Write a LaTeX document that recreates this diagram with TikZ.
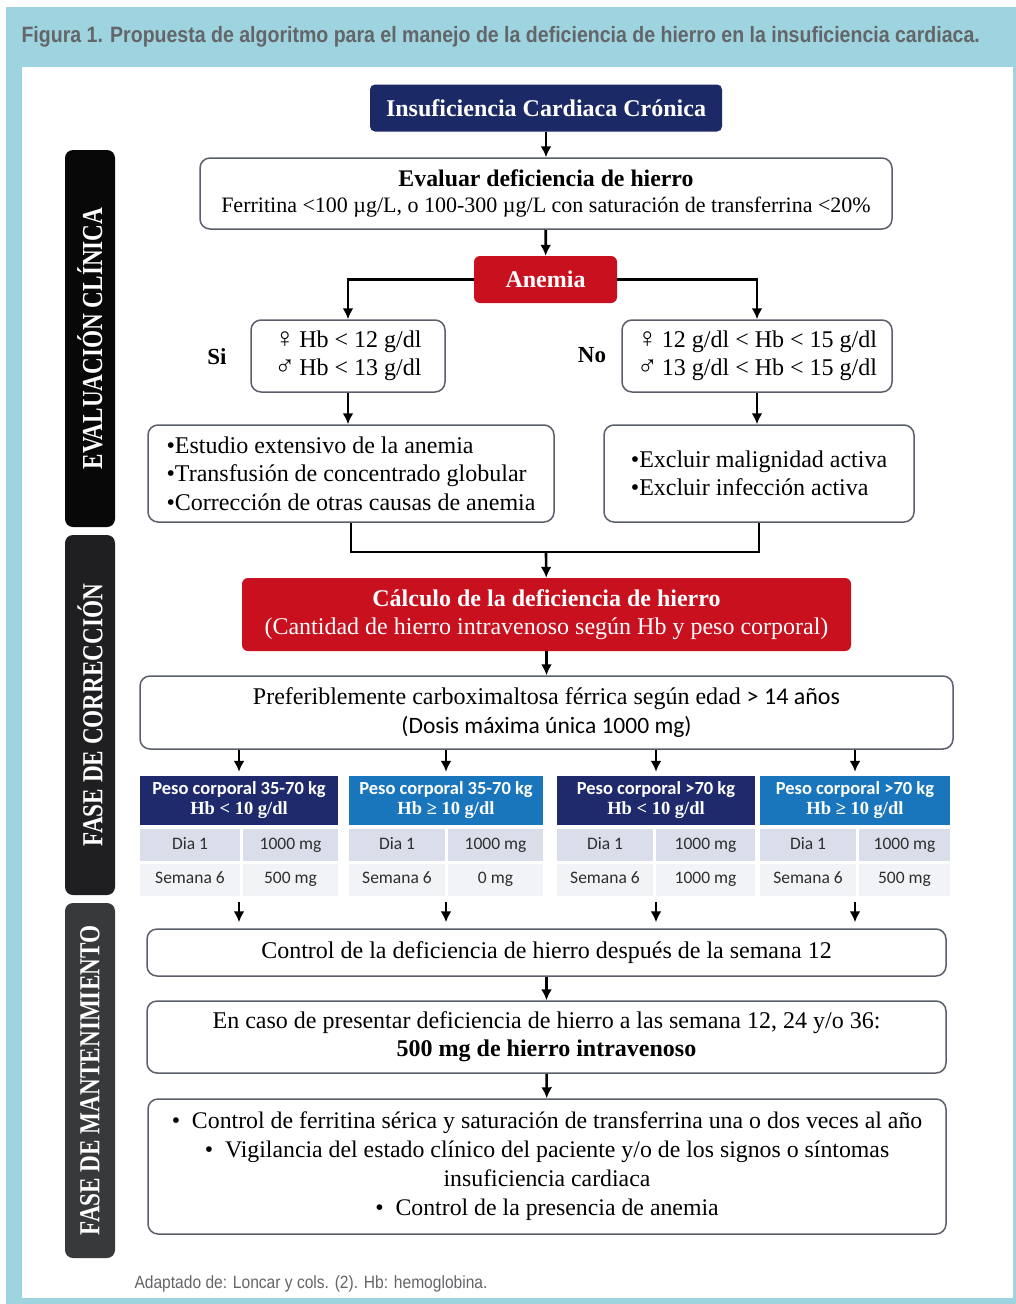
\documentclass[tikz,border=0pt]{standalone}
\usepackage{fontspec}
\setmainfont{Liberation Serif}
\newfontfamily\calfont{Carlito}
\newfontfamily\capfont[FakeStretch=0.88]{Liberation Sans}
\newfontfamily\barfont[FakeStretch=0.8]{Liberation Serif}
\usetikzlibrary{arrows.meta}
\newcommand\sexsym[1]{{\fontsize{28}{28.5}\selectfont #1}}

\definecolor{frameblue}{HTML}{9DD4E0}
\definecolor{titlegray}{HTML}{646568}
\definecolor{navy}{HTML}{1B2966}
\definecolor{anred}{HTML}{C8101F}
\definecolor{boxgray}{HTML}{5A5F6A}
\definecolor{hdnavy}{HTML}{1E2A6C}
\definecolor{hdblue}{HTML}{1A76BC}
\definecolor{rowa}{HTML}{D9DEEA}
\definecolor{rowb}{HTML}{F1F3F7}
\definecolor{celltext}{HTML}{2E2E2E}
\definecolor{barA}{HTML}{080808}
\definecolor{barB}{HTML}{1F1F21}
\definecolor{barC}{HTML}{38393B}

\tikzset{
	x=1pt, y=-1pt,
	box/.style={draw=boxgray, line width=1.5pt, rounded corners=10pt, fill=white, align=center, inner sep=0pt, font=\fontsize{24}{28.5}\selectfont},
	redbox/.style={fill=anred, rounded corners=6pt, text=white, align=center, inner sep=0pt, font=\fontsize{24}{28}\selectfont},
	phase/.style={rounded corners=8pt, rotate=90, minimum height=50pt, inner sep=0pt, text=white, font=\barfont\bfseries\fontsize{29}{29}\selectfont},
	head/.style={minimum height=49pt, inner sep=0pt, text=white, align=center, font=\fontsize{18.5}{20}\selectfont},
	cell/.style={minimum height=32pt, inner sep=0pt, text height=12pt, text depth=4pt, text=celltext, font=\calfont\fontsize{17.5}{18}\selectfont},
	arr/.style={-{Latex[length=11pt,width=11pt]}, line width=2.6pt},
	lnk/.style={line width=2.6pt}
}

\begin{document}
\begin{tikzpicture}

	\useasboundingbox (0,0) rectangle (1016,1304);
	\fill[white] (0,0) rectangle (1016,1304);
	\fill[frameblue] (6,7) rectangle (1016,1304);
	\fill[white] (22,67) rectangle (1013,1298);

	\node[anchor=west, text=titlegray, font=\capfont\bfseries\fontsize{22.2}{22}\selectfont] (TT) at (18,37) {Figura 1. Propuesta de algoritmo para el manejo de la deficiencia de hierro en la insuficiencia cardiaca.};
	\node[anchor=west, text=titlegray, font=\capfont\fontsize{17.7}{17}\selectfont] (FT) at (131,1284) {Adaptado de: Loncar y cols. (2). Hb: hemoglobina.};

	\node[phase, fill=barA, minimum width=377pt] (P1) at (90,338.5) {EVALUACIÓN CLÍNICA};
	\node[phase, fill=barB, minimum width=360pt] (P2) at (90,715) {FASE DE CORRECCIÓN};
	\node[phase, fill=barC, minimum width=355pt] (P3) at (90,1080.5) {FASE DE MANTENIMIENTO};

	\node[fill=navy, rounded corners=5pt, text=white, minimum width=352pt, minimum height=47pt, inner sep=0pt, font=\bfseries\fontsize{24}{24}\selectfont] (IC) at (546,108) {Insuficiencia Cardiaca Crónica};
	\node[box, minimum width=692pt, minimum height=71pt, font=\fontsize{22}{26.5}\selectfont] (EV) at (546,193.5) {\textbf{\fontsize{23.8}{26.5}\selectfont Evaluar deficiencia de hierro}\\Ferritina <100 µg/L, o 100-300 µg/L con saturación de transferrina <20\%};
	\node[redbox, minimum width=143pt, minimum height=47pt, font=\bfseries\fontsize{24}{24}\selectfont] (AN) at (545.5,279.5) {Anemia};

	\node[box, minimum width=194pt, minimum height=72pt, align=left] (S1) at (348,356) {\sexsym{♀}\,Hb < 12 g/dl\\\sexsym{♂}\,Hb < 13 g/dl};
	\node[box, minimum width=270pt, minimum height=72pt, align=left] (N1) at (757,356) {\sexsym{♀}\,12 g/dl < Hb < 15 g/dl\\\sexsym{♂}\,13 g/dl < Hb < 15 g/dl};
	\node[font=\bfseries\fontsize{23}{23}\selectfont] (SI) at (217,357) {Si};
	\node[font=\bfseries\fontsize{23}{23}\selectfont] (NO) at (592,355) {No};

	\node[box, minimum width=406pt, minimum height=97pt, align=left] (SE) at (351,473.5) {•Estudio extensivo de la anemia\\•Transfusión de concentrado globular\\•Corrección de otras causas de anemia};
	\node[box, minimum width=310pt, minimum height=97pt, align=left] (NE) at (759,473.5) {•Excluir malignidad activa\\•Excluir infección activa};
	\coordinate (J) at (546,552);

	\node[redbox, minimum width=609pt, minimum height=73pt] (CD) at (546.5,614.5) {\textbf{Cálculo de la deficiencia de hierro}\\(Cantidad de hierro intravenoso según Hb y peso corporal)};
	\node[box, minimum width=813pt, minimum height=73pt] (PB) at (546.5,712.5) {Preferiblemente carboximaltosa férrica según edad {\calfont > 14 años}\\{\calfont\fontsize{23.5}{28.5}\selectfont (Dosis máxima única 1000 mg)}};

	\node[head, fill=hdnavy, minimum width=198pt] (H1) at (239,800.5) {{\calfont\bfseries Peso corporal 35-70 kg}\\\textbf{Hb < 10 g/dl}};
	\node[cell, fill=rowa, minimum width=100pt] (A1) at (190,845) {Dia 1};
	\node[cell, fill=rowa, minimum width=95pt] (C1) at (290.5,845) {1000 mg};
	\node[cell, fill=rowb, minimum width=100pt] (B1) at (190,879.5) {Semana 6};
	\node[cell, fill=rowb, minimum width=95pt] (D1) at (290.5,879.5) {500 mg};

	\node[head, fill=hdblue, minimum width=194pt] (H2) at (446,800.5) {{\calfont\bfseries Peso corporal 35-70 kg}\\\textbf{Hb ≥ 10 g/dl}};
	\node[cell, fill=rowa, minimum width=96pt] (A2) at (397,845) {Dia 1};
	\node[cell, fill=rowa, minimum width=95pt] (C2) at (495.5,845) {1000 mg};
	\node[cell, fill=rowb, minimum width=96pt] (B2) at (397,879.5) {Semana 6};
	\node[cell, fill=rowb, minimum width=95pt] (D2) at (495.5,879.5) {0 mg};

	\node[head, fill=hdnavy, minimum width=198pt] (H3) at (656,800.5) {{\calfont\bfseries Peso corporal >70 kg}\\\textbf{Hb < 10 g/dl}};
	\node[cell, fill=rowa, minimum width=96pt] (A3) at (605,845) {Dia 1};
	\node[cell, fill=rowa, minimum width=99pt] (C3) at (705.5,845) {1000 mg};
	\node[cell, fill=rowb, minimum width=96pt] (B3) at (605,879.5) {Semana 6};
	\node[cell, fill=rowb, minimum width=99pt] (D3) at (705.5,879.5) {1000 mg};

	\node[head, fill=hdblue, minimum width=190pt] (H4) at (855,800.5) {{\calfont\bfseries Peso corporal >70 kg}\\\textbf{Hb ≥ 10 g/dl}};
	\node[cell, fill=rowa, minimum width=96pt] (A4) at (808,845) {Dia 1};
	\node[cell, fill=rowa, minimum width=91pt] (C4) at (904.5,845) {1000 mg};
	\node[cell, fill=rowb, minimum width=96pt] (B4) at (808,879.5) {Semana 6};
	\node[cell, fill=rowb, minimum width=91pt] (D4) at (904.5,879.5) {500 mg};

	\node[box, minimum width=799pt, minimum height=47pt] (CT) at (546.5,952.5) {Control de la deficiencia de hierro después de la semana 12};
	\node[box, minimum width=799pt, minimum height=72pt, font=\fontsize{24}{28}\selectfont] (EC) at (546.5,1037) {En caso de presentar deficiencia de hierro a las semana 12, 24 y/o 36:\\\textbf{500 mg de hierro intravenoso}};
	\node[box, minimum width=798pt, minimum height=135pt, font=\fontsize{23.8}{29}\selectfont] (FI) at (547,1166.5) {•\ \ Control de ferritina sérica y saturación de transferrina una o dos veces al año\\•\ \ Vigilancia del estado clínico del paciente y/o de los signos o síntomas\\insuficiencia cardiaca\\•\ \ Control de la presencia de anemia};

	\draw[arr] (IC) -- (EV);
	\draw[arr] (EV) -- (AN);
	\draw[arr] (AN.west) -| (S1.north);
	\draw[arr] (AN.east) -| (N1.north);
	\draw[arr] (S1.south) -- (S1.south |- SE.north);
	\draw[arr] (N1.south) -- (N1.south |- NE.north);
	\draw[lnk] (SE.south) |- (J) -| (NE.south);
	\draw[arr] (J) -- (CD);
	\draw[arr] (CD) -- (PB);

	\draw[arr, shorten >=4pt] (PB.south -| H1) -- (H1);
	\draw[arr, shorten >=4pt] (PB.south -| H2) -- (H2);
	\draw[arr, shorten >=4pt] (PB.south -| H3) -- (H3);
	\draw[arr, shorten >=4pt] (PB.south -| H4) -- (H4);
	\draw[arr, shorten <=6pt, shorten >=6pt] (H1 |- B1.south) -- (H1 |- CT.north);
	\draw[arr, shorten <=6pt, shorten >=6pt] (H2 |- B2.south) -- (H2 |- CT.north);
	\draw[arr, shorten <=6pt, shorten >=6pt] (H3 |- B3.south) -- (H3 |- CT.north);
	\draw[arr, shorten <=6pt, shorten >=6pt] (H4 |- B4.south) -- (H4 |- CT.north);

	\draw[arr] (CT) -- (EC);
	\draw[arr] (EC) -- (FI);

\end{tikzpicture}
\end{document}
